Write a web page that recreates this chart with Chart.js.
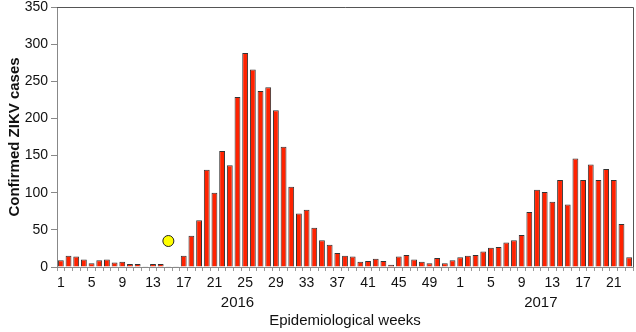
<!DOCTYPE html>
<html>
<head>
<meta charset="utf-8">
<script src="https://cdn.jsdelivr.net/npm/chart.js@4/dist/chart.umd.min.js"></script>
<style>
  html, body { margin: 0; background: #fff; }
  #wrap { width: 636px; height: 332px; }
</style>
</head>
<body>
<div id="wrap"><canvas id="zikv"></canvas></div>
<script>
// weekly confirmed ZIKV cases, 2016 weeks 1-52 and 2017 weeks 1-23
const cases2016 = [9, 15, 14, 10, 5, 9, 10, 6, 7, 4, 4, 1, 4, 4, 1, 1,
  15, 42, 63, 131, 100, 156, 137, 229, 288, 266, 237, 242, 211, 162, 108, 72,
  77, 53, 36, 30, 19, 15, 14, 7, 8, 11, 8, 3, 14, 16, 10, 7, 5, 12, 5, 9];
const cases2017 = [13, 15, 16, 21, 26, 27, 33, 36, 43, 74, 104, 101, 88, 117,
  84, 146, 117, 138, 117, 132, 117, 58, 13];
const years = ['2016', '2017'];
const yTicks = [0, 50, 100, 150, 200, 250, 300, 350];
// highlighted point: week 15 of 2016
const markerWeek = 15;
const markerValue = 35;

const labels = cases2016.map((_, i) => String(i + 1))
  .concat(cases2017.map((_, i) => String(i + 1)));
const cases = cases2016.concat(cases2017);
const marker = labels.map((_, i) => (i === markerWeek - 1 ? markerValue : null));

const font = '"Liberation Sans", Arial, Helvetica, sans-serif';

// top/right frame lines plus the year row under the week numbers
const frameAndYears = {
  id: 'frameAndYears',
  afterDraw(chart) {
    const { ctx, chartArea: a, scales: { x } } = chart;
    ctx.save();
    ctx.strokeStyle = '#555';
    ctx.lineWidth = 1;
    ctx.beginPath();
    ctx.moveTo(a.left, Math.round(a.top) + 0.5);
    ctx.lineTo(Math.round(a.right) + 0.5, Math.round(a.top) + 0.5);
    ctx.lineTo(Math.round(a.right) + 0.5, a.bottom);
    ctx.stroke();
    ctx.font = '15px ' + font;
    ctx.fillStyle = '#111';
    ctx.textAlign = 'center';
    ctx.textBaseline = 'middle';
    ctx.fillText(years[0], x.getPixelForValue(23), 303);
    ctx.fillText(years[1], x.getPixelForValue(cases2016.length + 10.5), 303);
    ctx.restore();
  }
};

new Chart(document.getElementById('zikv'), {
  type: 'bar',
  data: {
    labels: labels,
    datasets: [{
      type: 'line',
      data: marker,
      showLine: false,
      pointRadius: 5.5,
      pointBackgroundColor: '#ffff00',
      pointBorderColor: '#222',
      pointBorderWidth: 1,
      order: 0
    }, {
      data: cases,
      backgroundColor: '#ff2200',
      borderColor: '#333',
      borderWidth: 1,
      borderSkipped: 'bottom',
      barPercentage: 0.76,
      categoryPercentage: 1.0,
      order: 1
    }]
  },
  options: {
    responsive: true,
    maintainAspectRatio: false,
    animation: false,
    layout: { autoPadding: false, padding: { top: 7, right: 3, left: 0, bottom: 0 } },
    plugins: { legend: { display: false }, tooltip: { enabled: false } },
    scales: {
      x: {
        grid: { drawOnChartArea: false, tickLength: 4, color: '#999' },
        border: { color: '#888' },
        ticks: {
          autoSkip: false,
          maxRotation: 0,
          padding: 4,
          color: '#111',
          font: { family: font, size: 14 },
          callback: (v, i) => (i % 4 === 0 ? labels[i] : '')
        },
        title: {
          display: true,
          text: 'Epidemiological weeks',
          color: '#111',
          font: { family: font, size: 15 },
          padding: { top: 0, bottom: 2 }
        },
        afterFit: (scale) => {
          scale.height = 65;
          scale.paddingLeft = 0;
          scale.paddingRight = 0;
        }
      },
      y: {
        min: 0,
        max: 350,
        afterBuildTicks: (scale) => { scale.ticks = yTicks.map(v => ({ value: v })); },
        grid: { drawOnChartArea: false, tickLength: 6, color: '#888' },
        border: { color: '#888' },
        ticks: {
          padding: 3,
          color: '#111',
          font: { family: font, size: 14 }
        },
        title: {
          display: true,
          text: 'Confirmed ZIKV cases',
          color: '#111',
          font: { family: font, size: 15, weight: 'bold' },
          padding: { top: 6, bottom: 0 }
        },
        afterFit: (scale) => {
          scale.width = 57;
          scale.paddingTop = 0;
          scale.paddingBottom = 0;
        }
      }
    }
  },
  plugins: [frameAndYears]
});
</script>
</body>
</html>
